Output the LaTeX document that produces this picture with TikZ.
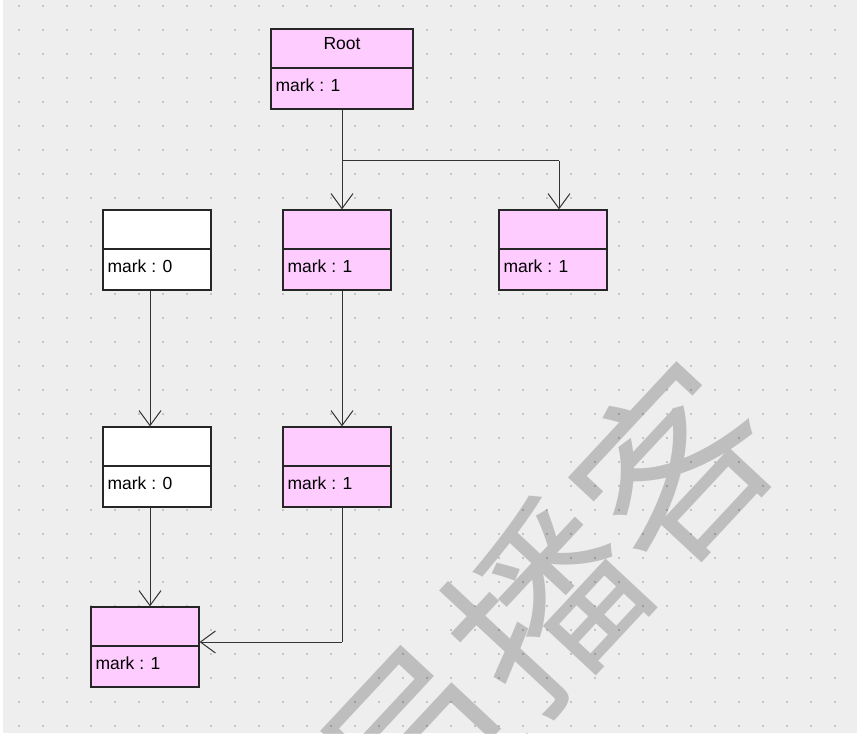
\documentclass[tikz,border=0pt]{standalone}
\usepackage{fontspec}
\setmainfont{Liberation Sans}
\newfontfamily\cjkfont{Noto Sans CJK SC}
\usetikzlibrary{positioning, arrows.meta}

\definecolor{classpink}{HTML}{FFCCFF}
\definecolor{canvasgray}{HTML}{EEEEEE}
\definecolor{dotgray}{HTML}{C4C4C4}

\begin{document}
\begin{tikzpicture}[x=1pt, y=-1pt, >={Straight Barb[length=15pt,width=22pt]},
     box/.style={draw=black!85, fill=classpink, line width=1.2pt, minimum width=108pt,
       minimum height=80pt, inner sep=0pt,
       path picture={\draw[line width=1.2pt, black!85]
         ([yshift=1pt]path picture bounding box.west) -- ([yshift=1pt]path picture bounding box.east);}},
     attr/.style={font=\fontsize{17.5}{19}\selectfont, inner sep=0pt, anchor=west},
     link/.style={every edge/.style={draw=black!80, line width=1pt}}]

  % canvas with dot grid
  \useasboundingbox (0,0) rectangle (857,738);
  \fill[white] (0,0) rectangle (857,738);
  \fill[canvasgray] (3,0) rectangle (857,733);
  \foreach \x in {19,43,...,857}
    \foreach \y in {6,30,...,733}
      \fill[dotgray] (\x-1,\y-1) rectangle +(2,2);

  % classes
  \node[box, minimum width=142pt] (root) at (342,69) {};
  \node[box, fill=white] (left1) at (157,250) {};
  \node[box] (mid1) at (337,250) {};
  \node[box] (right1) at (553,250) {};
  \node[box, fill=white] (left2) at (157,467) {};
  \node[box] (mid2) at (337,467) {};
  \node[box] (sink) at (145,647) {};

  \node[attr, anchor=center] (roottitle) at ([yshift=25pt]root.center) {Root};
  \node[attr, right=5pt of root.west, yshift=-16pt] (rootmark) {mark : 1};
  \node[attr, right=5pt of left1.west, yshift=-16pt] (left1mark) {mark : 0};
  \node[attr, right=5pt of mid1.west, yshift=-16pt] (mid1mark) {mark : 1};
  \node[attr, right=5pt of right1.west, yshift=-16pt] (right1mark) {mark : 1};
  \node[attr, right=5pt of left2.west, yshift=-16pt] (left2mark) {mark : 0};
  \node[attr, right=5pt of mid2.west, yshift=-16pt] (mid2mark) {mark : 1};
  \node[attr, right=5pt of sink.west, yshift=-16pt] (sinkmark) {mark : 1};

  \coordinate (aux0) at (342,161);
  \coordinate (aux1) at (559,161);
  \coordinate (aux2) at (342,642);

  \path[link]
   (root.south) edge (aux0)
   (aux0) edge (aux1)
   ([xshift=5pt]mid2.south) edge (aux2);
  \path[link, ->]
   (aux0) edge ([xshift=5pt]mid1.north)
   (aux1) edge ([xshift=6pt]right1.north)
   ([xshift=-7pt]left1.south) edge ([xshift=-7pt]left2.north)
   ([xshift=-7pt]left2.south) edge ([xshift=5pt]sink.north)
   ([xshift=5pt]mid1.south) edge ([xshift=5pt]mid2.north)
   (aux2) edge ([yshift=5pt]sink.east);

  % watermark
  \begin{scope}
    \clip (3,0) rectangle (857,733);
    \node[rotate=47, inner sep=0pt, text=black, text opacity=0.2,
      font=\cjkfont\fontsize{188}{188}\selectfont] (mark) at (545,604) {员播客};
  \end{scope}
\end{tikzpicture}
\end{document}
